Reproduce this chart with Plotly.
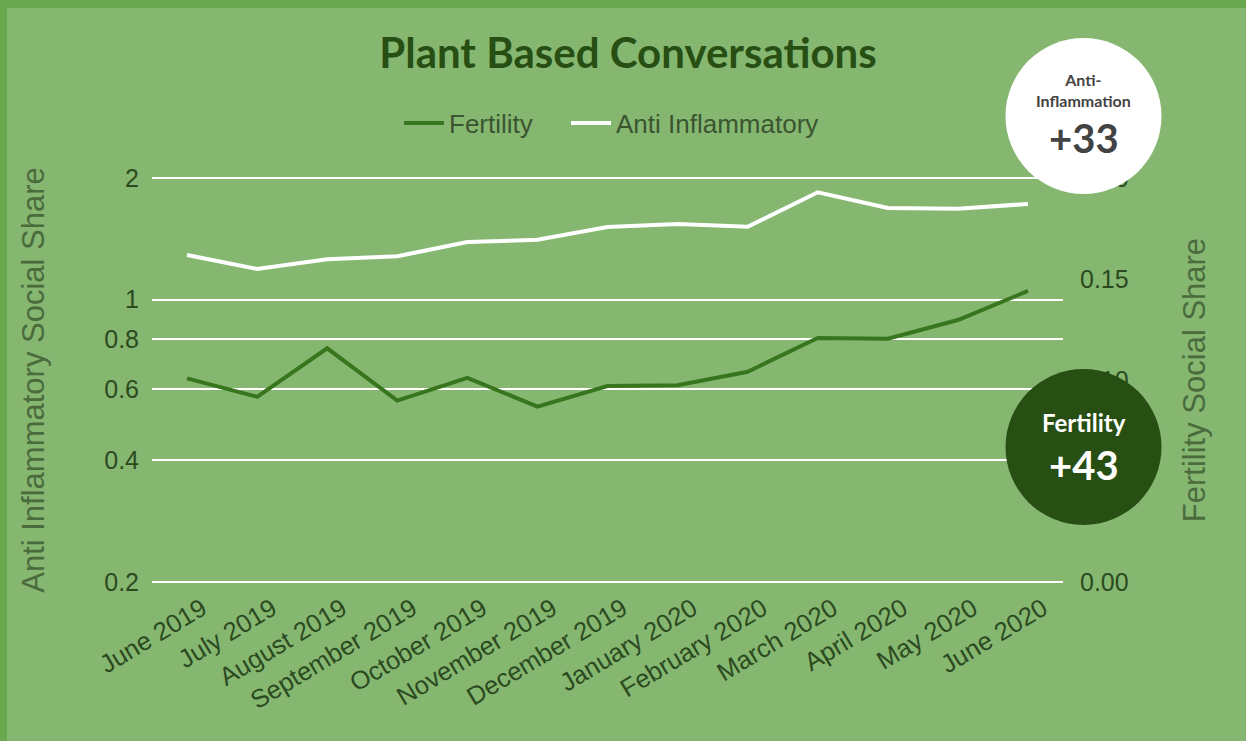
import math
import plotly.graph_objects as go

months = ["June 2019", "July 2019", "August 2019", "September 2019", "October 2019",
          "November 2019", "December 2019", "January 2020", "February 2020",
          "March 2020", "April 2020", "May 2020", "June 2020"]
fertility = [0.1008, 0.0917, 0.1157, 0.0898, 0.1011, 0.0868, 0.0970,
             0.0974, 0.1041, 0.1208, 0.1204, 0.1297, 0.1441]
anti_inflammatory = [1.290, 1.191, 1.258, 1.280, 1.388, 1.407, 1.512,
                     1.538, 1.515, 1.844, 1.686, 1.679, 1.725]
left_ticks = [0.2, 0.4, 0.6, 0.8, 1, 2]
left_ticktext = ["0.2", "0.4", "0.6", "0.8", "1", "2"]
right_ticks = [0.0, 0.10, 0.15, 0.20]
right_ticktext = ["0.00", "0.10", "0.15", "0.20"]

W, H = 1246, 741
PADPX = 3
L, R = 152, 1063
T0, B0 = 178, 582          # pixel rows of the axis limits 2 / 0.2
T, B = T0 - PADPX, B0 + PADPX

def px(x):
    return (x - L) / (R - L)

def py(y):
    return (B - y) / (B - T)

lo, hi = math.log10(0.2), math.log10(2)
lpad = (hi - lo) / (B0 - T0) * PADPX
rpad = 0.2 / (B0 - T0) * PADPX

BG = "#85b771"
BORDER = "#6aa84f"
DARK = "#274e13"
LINE_GREEN = "#38761d"
TICK = "#2c4a20"
LEG_FONT = dict(family="Liberation Sans, Arial", size=26, color="#3b5530")

fig = go.Figure()
fig.add_trace(go.Scatter(x=months, y=fertility, name="Fertility", yaxis="y2",
                         legend="legend", mode="lines", line=dict(color=LINE_GREEN, width=4)))
fig.add_trace(go.Scatter(x=months, y=anti_inflammatory, name="Anti Inflammatory",
                         legend="legend2", yaxis="y", mode="lines",
                         line=dict(color="white", width=4)))

shapes = [
    dict(type="rect", xref="paper", yref="paper", x0=px(0), x1=px(W), y0=py(0), y1=py(8),
         fillcolor=BORDER, line=dict(width=0), layer="below"),
    dict(type="rect", xref="paper", yref="paper", x0=px(0), x1=px(7), y0=py(0), y1=py(H),
         fillcolor=BORDER, line=dict(width=0), layer="below"),
    dict(type="circle", xref="paper", yref="paper", xsizemode="pixel", ysizemode="pixel",
         xanchor=px(1083.5), yanchor=py(116), x0=-78, x1=78, y0=-78, y1=78,
         fillcolor="white", line=dict(width=0), layer="above"),
    dict(type="circle", xref="paper", yref="paper", xsizemode="pixel", ysizemode="pixel",
         xanchor=px(1083.5), yanchor=py(447), x0=-78, x1=78, y0=-78, y1=78,
         fillcolor=DARK, line=dict(width=0), layer="above"),
]

annotations = [
    dict(text="<b>Anti-<br>Inflammation</b>", xref="paper", yref="paper", x=px(1083.5), y=py(90),
         showarrow=False, xanchor="center", yanchor="middle",
         font=dict(family="Lato", size=16, color="#434343")),
    dict(text="<b>+33</b>", xref="paper", yref="paper", x=px(1083.5), y=py(138),
         showarrow=False, xanchor="center", yanchor="middle",
         font=dict(family="Lato", size=40, color="#434343")),
    dict(text="<b>Fertility</b>", xref="paper", yref="paper", x=px(1083.5), y=py(422),
         showarrow=False, xanchor="center", yanchor="middle",
         font=dict(family="Lato", size=24, color="white")),
    dict(text="<b>+43</b>", xref="paper", yref="paper", x=px(1083.5), y=py(465),
         showarrow=False, xanchor="center", yanchor="middle",
         font=dict(family="Lato", size=40, color="white")),
]

fig.update_layout(
    width=W, height=H,
    margin=dict(l=L, r=W - R, t=T, b=H - B, autoexpand=False),
    paper_bgcolor=BG, plot_bgcolor="rgba(0,0,0,0)",
    title=dict(text="<b>Plant Based Conversations</b>", x=628 / W, xanchor="center",
               y=1 - 53 / H, yanchor="middle",
               font=dict(family="Lato", size=42, color=DARK)),
    showlegend=True,
    legend=dict(orientation="h", x=px(399), xanchor="left", y=py(123), yanchor="middle",
                font=LEG_FONT, bgcolor="rgba(0,0,0,0)", itemwidth=40),
    legend2=dict(orientation="h", x=px(566), xanchor="left", y=py(123), yanchor="middle",
                 font=LEG_FONT, bgcolor="rgba(0,0,0,0)", itemwidth=40),
    xaxis=dict(type="category", range=[-0.5, 12.5], showgrid=False, showline=False,
               zeroline=False, ticks="", tickangle=-31, automargin=False,
               ticklabelshift=15, ticklabelstandoff=3,
               tickfont=dict(family="Liberation Sans, Arial", size=25.5, color=TICK)),
    yaxis=dict(type="log", range=[lo - lpad, hi + lpad], tickvals=left_ticks,
               ticktext=left_ticktext, showgrid=True, gridcolor="white", gridwidth=1.5,
               zeroline=False, showline=False, ticks="", ticklabelstandoff=12,
               automargin=False,
               tickfont=dict(family="Liberation Sans, Arial", size=25, color=TICK),
               title=dict(text="Anti Inflammatory Social Share", standoff=50,
                          font=dict(family="Liberation Sans, Arial", size=31, color="#4a6c3d"))),
    yaxis2=dict(overlaying="y", side="right", range=[-rpad, 0.2 + rpad],
                tickvals=right_ticks,
                ticktext=right_ticktext, showgrid=False, zeroline=False, showline=False,
                ticks="", ticklabelstandoff=16, automargin=False,
                tickfont=dict(family="Liberation Sans, Arial", size=25, color=TICK),
                title=dict(text="Fertility Social Share", standoff=55,
                           font=dict(family="Liberation Sans, Arial", size=31, color="#4a6c3d"))),
    shapes=shapes,
    annotations=annotations,
)

fig.write_html("out.html", config={"displayModeBar": False},
               post_script="document.body.style.margin='0';")
